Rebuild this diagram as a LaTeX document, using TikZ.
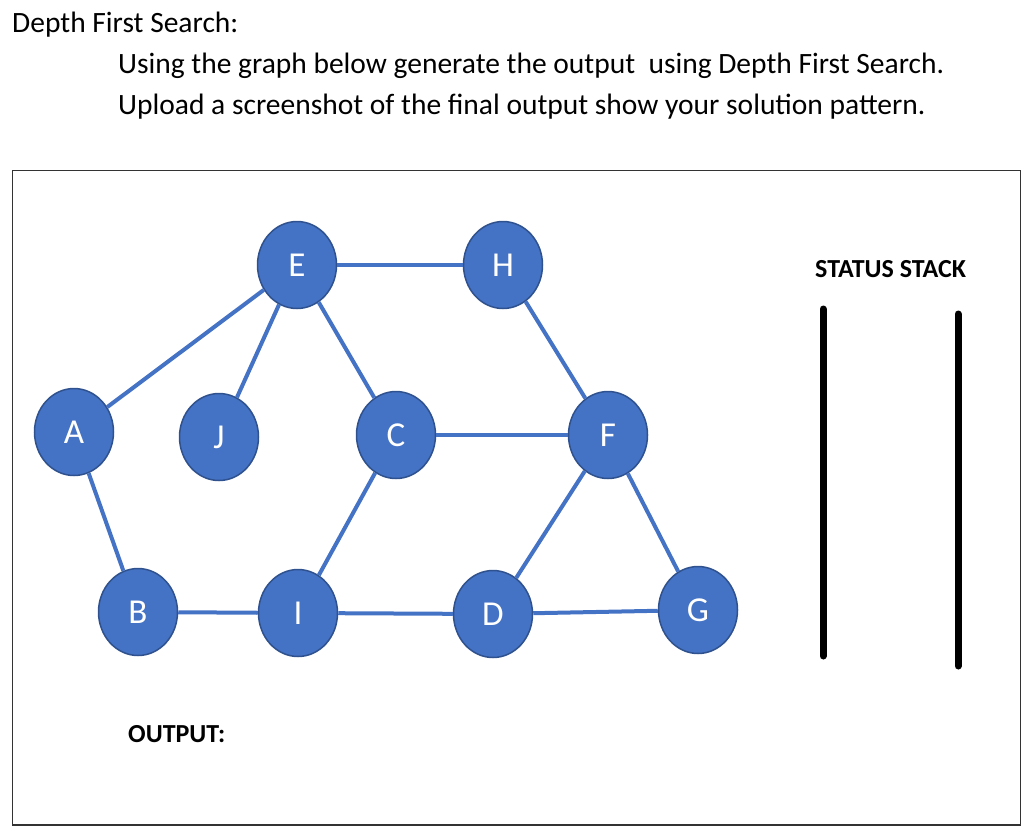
\documentclass[tikz,border=0pt]{standalone}
\usepackage{fontspec}
\setmainfont{Carlito}
\usetikzlibrary{shapes.geometric}
\definecolor{nodeblue}{HTML}{4472C4}
\definecolor{rimblue}{HTML}{2F528F}
\begin{document}
\begin{tikzpicture}[x=1pt, y=-1pt,
    vertex/.style={ellipse, fill=nodeblue, draw=rimblue, line width=1.5pt,
      minimum width=79pt, minimum height=87pt, inner sep=0pt,
      text=white, font=\fontsize{35}{40}\selectfont},
    link/.style={nodeblue, line width=4pt},
    heading/.style={anchor=base west, inner sep=0pt, font=\fontsize{29.5}{34}\selectfont},
    boldlabel/.style={anchor=base west, inner sep=0pt, font=\fontsize{26}{30}\selectfont\bfseries},
    stackwall/.style={line width=7pt, line cap=round}]
    \useasboundingbox (0,0) rectangle (1024,832);
    % task text above the frame
    \node[heading] (title) at (12,33) {Depth First Search:};
    \node[heading] (line1) at (118,74) {Using the graph below generate the output\ \ using Depth First Search.};
    \node[heading] (line2) at (118,114) {Upload a screenshot of the final output show your solution pattern.};
    % frame
    \draw[line width=1pt, black!80] (12,170) rectangle (1020,825);
    \draw[line width=1.5pt, black!80] (12,825) -- (1020,825);
    % graph
    \node[vertex] (E) at (297,265) {E};
    \node[vertex] (H) at (503,265) {H};
    \node[vertex] (A) at (74,432) {A};
    \node[vertex] (J) at (219,437) {J};
    \node[vertex] (C) at (396,435) {C};
    \node[vertex] (F) at (608,435) {F};
    \node[vertex] (B) at (138,612) {B};
    \node[vertex] (I) at (298,613) {I};
    \node[vertex] (D) at (493,614) {D};
    \node[vertex] (G) at (698,610) {G};
    \draw[link] (E) -- (H);
    \draw[link] (E) -- (A);
    \draw[link] (E) -- (J);
    \draw[link] (E) -- (C);
    \draw[link] (H) -- (F);
    \draw[link] (C) -- (F);
    \draw[link] (C) -- (I);
    \draw[link] (A) -- (B);
    \draw[link] (B) -- (I);
    \draw[link] (I) -- (D);
    \draw[link] (D) -- (F);
    \draw[link] (D) -- (G);
    \draw[link] (F) -- (G);
    % status stack
    \node[boldlabel] (stacklabel) at (815,277) {STATUS STACK};
    \coordinate (lefttop) at (823,309);
    \coordinate (leftbot) at (823,656);
    \coordinate (righttop) at (958,314);
    \coordinate (rightbot) at (958,666);
    \draw[stackwall] (lefttop) -- (leftbot);
    \draw[stackwall] (righttop) -- (rightbot);
    % output
    \node[boldlabel] (output) at (128,742) {OUTPUT:};
\end{tikzpicture}
\end{document}
